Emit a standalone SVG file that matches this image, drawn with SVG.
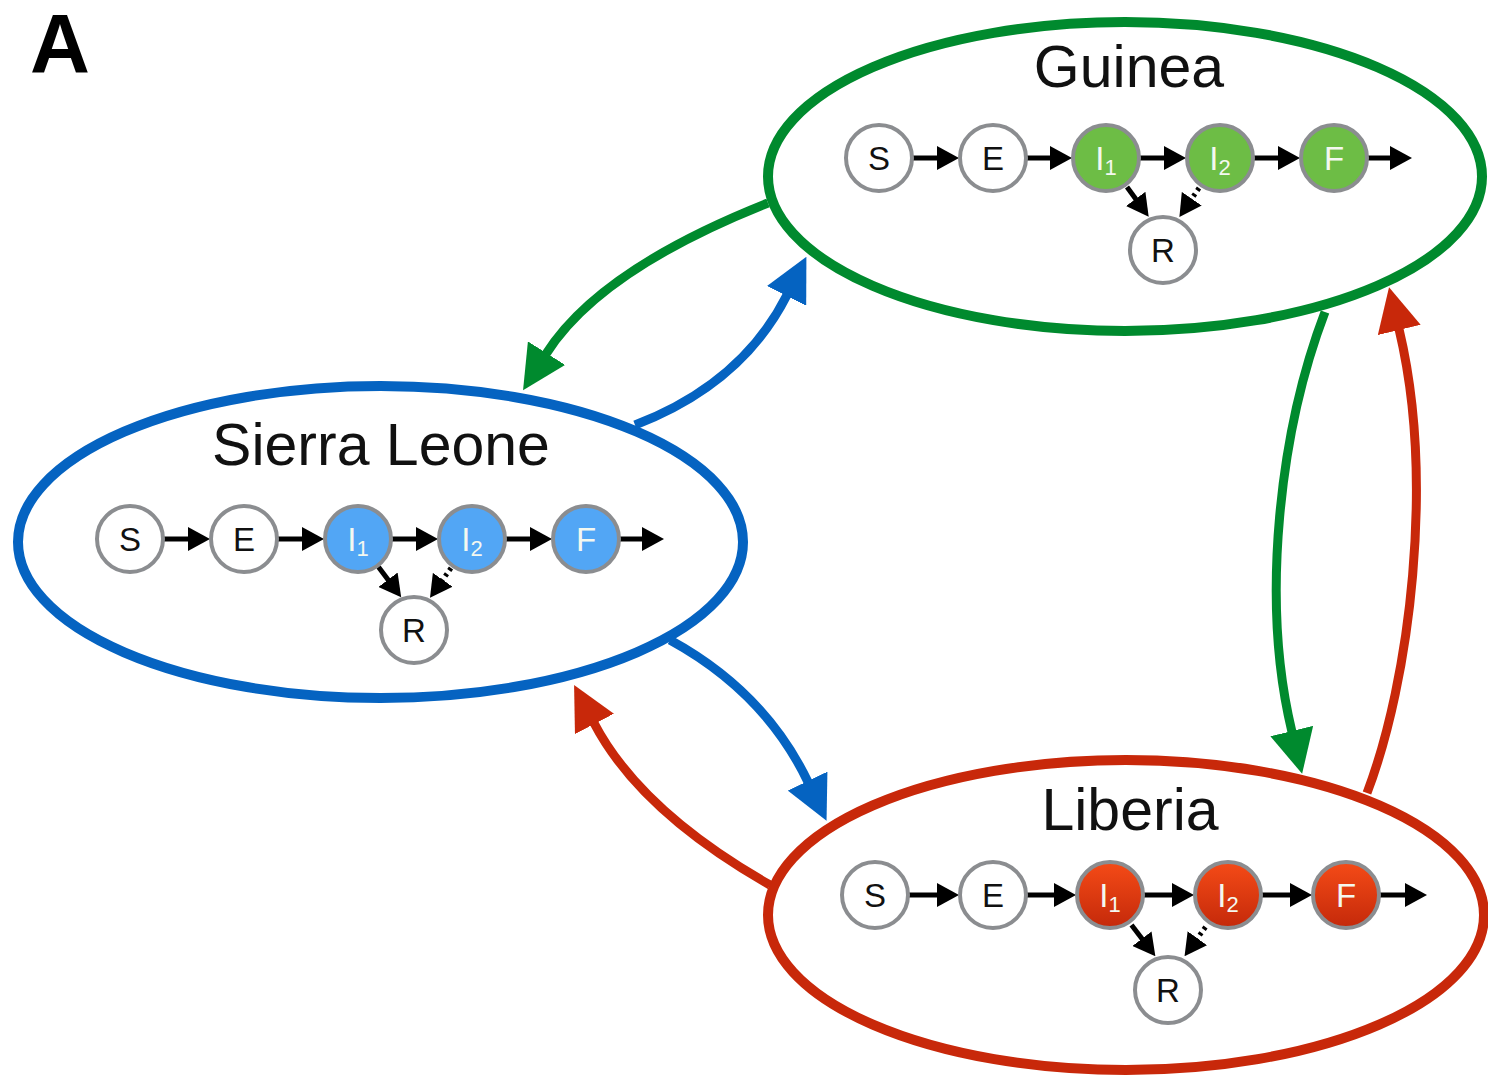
<svg xmlns="http://www.w3.org/2000/svg" width="1488" height="1076" viewBox="0 0 1488 1076">
<style>
.ell{fill:none;stroke-width:10}
.title{font-family:"Liberation Sans",Arial,sans-serif;font-size:59px;fill:#111;text-anchor:middle}
.lbl{font-family:"Liberation Sans",Arial,sans-serif;font-size:33px;text-anchor:middle;fill:#111}
.wl{fill:#f4f8f0}
.nd{stroke:#8b8d90;stroke-width:4}
.wh{fill:#fff}
.gr{fill:#6dbd45}
.bl{fill:#52a6f5}
.rd{fill:url(#redg)}
.sm{stroke:#000;stroke-width:5;fill:none;marker-end:url(#sa)}
.dt{stroke:#000;stroke-width:5;fill:none;stroke-dasharray:3 4;marker-end:url(#sa)}
.link{fill:none;stroke-width:9}
</style>
<defs>
<linearGradient id="redg" x1="0" y1="0" x2="0" y2="1">
<stop offset="0" stop-color="#f54b17"/>
<stop offset="1" stop-color="#c4290a"/>
</linearGradient>
<marker id="sa" markerUnits="userSpaceOnUse" markerWidth="22" markerHeight="24" viewBox="0 0 22 24" refX="1" refY="12" orient="auto"><path d="M0,0 L22,12 L0,24 z" fill="#000"/></marker>
<marker id="ag" markerUnits="userSpaceOnUse" markerWidth="44" markerHeight="44" viewBox="0 0 44 44" refX="1" refY="22" orient="auto"><path d="M0,0 L44,22 L0,44 z" fill="#008a2e"/></marker>
<marker id="ab" markerUnits="userSpaceOnUse" markerWidth="44" markerHeight="44" viewBox="0 0 44 44" refX="1" refY="22" orient="auto"><path d="M0,0 L44,22 L0,44 z" fill="#0563c1"/></marker>
<marker id="ar" markerUnits="userSpaceOnUse" markerWidth="44" markerHeight="44" viewBox="0 0 44 44" refX="1" refY="22" orient="auto"><path d="M0,0 L44,22 L0,44 z" fill="#c8280a"/></marker>
</defs>
<rect width="1488" height="1076" fill="#fff"/>
<text x="30" y="73" font-family="Liberation Sans,Arial,sans-serif" font-weight="bold" font-size="83">A</text>

<g id="guinea">
<ellipse class="ell" cx="1125" cy="176.5" rx="357" ry="154.5" stroke="#008a2e"/>
<text class="title" x="1129" y="87">Guinea</text>
<g class="sm-arrows">
<line class="sm" x1="912" y1="158" x2="938" y2="158"/>
<line class="sm" x1="1026" y1="158" x2="1051" y2="158"/>
<line class="sm" x1="1139" y1="158" x2="1165" y2="158"/>
<line class="sm" x1="1253" y1="158" x2="1279" y2="158"/>
<line class="sm" x1="1367" y1="158" x2="1391" y2="158"/>
<line class="sm" x1="1127" y1="187" x2="1136.3" y2="199.7"/>
<line class="dt" x1="1199" y1="188" x2="1191.2" y2="199.5"/>
</g>
<g id="g-S"><circle class="nd wh" cx="879" cy="158" r="33"/><text class="lbl" x="879" y="170">S</text></g>
<g id="g-E"><circle class="nd wh" cx="993" cy="158" r="33"/><text class="lbl" x="993" y="170">E</text></g>
<g id="g-I1"><circle class="nd gr" cx="1106" cy="158" r="33"/><text class="lbl wl" x="1106" y="170">I<tspan font-size="22" dy="5">1</tspan></text></g>
<g id="g-I2"><circle class="nd gr" cx="1220" cy="158" r="33"/><text class="lbl wl" x="1220" y="170">I<tspan font-size="22" dy="5">2</tspan></text></g>
<g id="g-F"><circle class="nd gr" cx="1334" cy="158" r="33"/><text class="lbl wl" x="1334" y="170">F</text></g>
<g id="g-R"><circle class="nd wh" cx="1163" cy="250" r="33"/><text class="lbl" x="1163" y="262">R</text></g>
</g>

<g id="sierra-leone">
<ellipse class="ell" cx="380.5" cy="542" rx="362.5" ry="156" stroke="#0563c1"/>
<text class="title" x="381" y="465">Sierra Leone</text>
<g class="sm-arrows">
<line class="sm" x1="163" y1="539" x2="189" y2="539"/>
<line class="sm" x1="277" y1="539" x2="303" y2="539"/>
<line class="sm" x1="391" y1="539" x2="417" y2="539"/>
<line class="sm" x1="505" y1="539" x2="531" y2="539"/>
<line class="sm" x1="619" y1="539" x2="643" y2="539"/>
<line class="sm" x1="378.5" y1="567" x2="388.6" y2="580.5"/>
<line class="dt" x1="451" y1="568" x2="442.1" y2="580.6"/>
</g>
<g id="sl-S"><circle class="nd wh" cx="130" cy="539" r="33"/><text class="lbl" x="130" y="551">S</text></g>
<g id="sl-E"><circle class="nd wh" cx="244" cy="539" r="33"/><text class="lbl" x="244" y="551">E</text></g>
<g id="sl-I1"><circle class="nd bl" cx="358" cy="539" r="33"/><text class="lbl wl" x="358" y="551">I<tspan font-size="22" dy="5">1</tspan></text></g>
<g id="sl-I2"><circle class="nd bl" cx="472" cy="539" r="33"/><text class="lbl wl" x="472" y="551">I<tspan font-size="22" dy="5">2</tspan></text></g>
<g id="sl-F"><circle class="nd bl" cx="586" cy="539" r="33"/><text class="lbl wl" x="586" y="551">F</text></g>
<g id="sl-R"><circle class="nd wh" cx="414" cy="630" r="33"/><text class="lbl" x="414" y="642">R</text></g>
</g>

<g id="liberia">
<ellipse class="ell" cx="1126" cy="915" rx="358" ry="155" stroke="#c8280a"/>
<text class="title" x="1130" y="830">Liberia</text>
<g class="sm-arrows">
<line class="sm" x1="908" y1="895" x2="938" y2="895"/>
<line class="sm" x1="1026" y1="895" x2="1055" y2="895"/>
<line class="sm" x1="1143" y1="895" x2="1173" y2="895"/>
<line class="sm" x1="1261" y1="895" x2="1291" y2="895"/>
<line class="sm" x1="1379" y1="895" x2="1406" y2="895"/>
<line class="sm" x1="1131.5" y1="925" x2="1142.6" y2="939.5"/>
<line class="dt" x1="1205.5" y1="927" x2="1196.8" y2="939.1"/>
</g>
<g id="l-S"><circle class="nd wh" cx="875" cy="895" r="33"/><text class="lbl" x="875" y="907">S</text></g>
<g id="l-E"><circle class="nd wh" cx="993" cy="895" r="33"/><text class="lbl" x="993" y="907">E</text></g>
<g id="l-I1"><circle class="nd rd" cx="1110" cy="895" r="33"/><text class="lbl wl" x="1110" y="907">I<tspan font-size="22" dy="5">1</tspan></text></g>
<g id="l-I2"><circle class="nd rd" cx="1228" cy="895" r="33"/><text class="lbl wl" x="1228" y="907">I<tspan font-size="22" dy="5">2</tspan></text></g>
<g id="l-F"><circle class="nd rd" cx="1346" cy="895" r="33"/><text class="lbl wl" x="1346" y="907">F</text></g>
<g id="l-R"><circle class="nd wh" cx="1168" cy="990" r="33"/><text class="lbl" x="1168" y="1002">R</text></g>
</g>

<g id="connectors">
<path class="link" stroke="#008a2e" marker-end="url(#ag)" d="M768,203 Q599,270 546,354"/>
<path class="link" stroke="#0563c1" marker-end="url(#ab)" d="M635,425 Q742,384 787,295"/>
<path class="link" stroke="#0563c1" marker-end="url(#ab)" d="M670,640 Q765,692 808,782"/>
<path class="link" stroke="#c8280a" marker-end="url(#ar)" d="M770,885 Q640,811 594,723"/>
<path class="link" stroke="#008a2e" marker-end="url(#ag)" d="M1325,312 C1280,430 1260,600 1292,732"/>
<path class="link" stroke="#c8280a" marker-end="url(#ar)" d="M1367,793 C1410,680 1435,480 1399,329"/>
</g>
</svg>
